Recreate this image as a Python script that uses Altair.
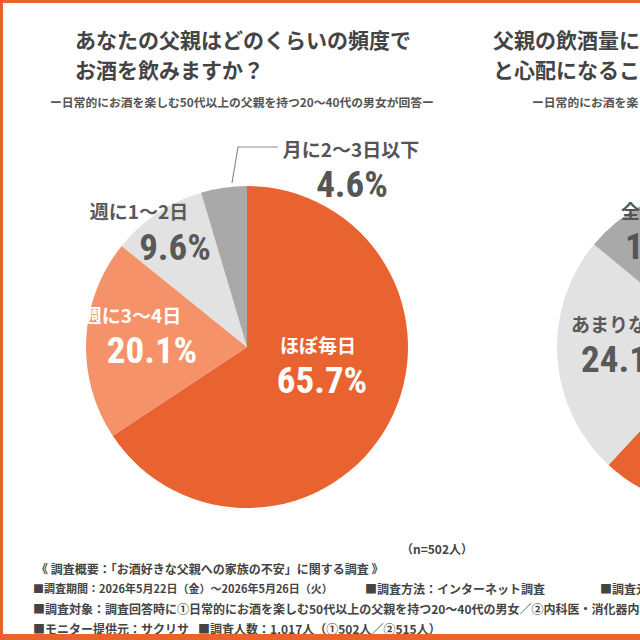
import altair as alt
import pandas as pd

# ------------------------------------------------------------------ data
pie1_categories = ["ほぼ毎日", "週に3〜4日", "週に1〜2日", "月に2〜3日以下"]
pie1_values = [65.7, 20.1, 9.6, 4.6]

pie2_categories = ["ある", "あまりない", "全くない"]
pie2_values = [61.9, 24.1, 14.0]

title1_lines = ["あなたの父親はどのくらいの頻度で", "お酒を飲みますか？"]
title2_lines = ["父親の飲酒量について「多すぎる」", "と心配になることはありますか？"]
subtitle_text = "ー日常的にお酒を楽しむ50代以上の父親を持つ20〜40代の男女が回答ー"
sample_note = "（n=502人）"
footer_heading = "《 調査概要：「お酒好きな父親への家族の不安」に関する調査 》"
footer_row1 = ["■調査期間：2026年5月22日（金）〜2026年5月26日（火）",
               "■調査方法：インターネット調査", "■調査元：サクリサ"]
footer_row2 = ["■調査対象：調査回答時に①日常的にお酒を楽しむ50代以上の父親を持つ20〜40代の男女／②内科医・消化器内科医"]
footer_row3 = ["■モニター提供元：サクリサ", "■調査人数：1,017人（①502人／②515人）"]

# ------------------------------------------------------------------ styles / layout
W, H = 640, 640
ORANGE = "#E8632F"
SALMON = "#F5926A"
LGRAY = "#E2E2E2"
GRAY = "#A9A9A9"
JP = "Noto Sans CJK JP"
NUM = "Roboto Condensed, Roboto, sans-serif"

pie1_colors = [ORANGE, SALMON, LGRAY, GRAY]
pie2_colors = [ORANGE, LGRAY, GRAY]
pie1_text_colors = ["white", "white", "#595959", "#555555"]
pie2_text_colors = ["white", "#595959", "#555555"]

PIE1 = dict(cx=247, cy=347, r=161)
PIE2 = dict(cx=718, cy=347, r=161)

# label offsets relative to pie centre: (label x, label y, pct x, pct baseline y)
pie1_label_pos = {
    "ほぼ毎日": (71, 0, 75, 46),
    "週に3〜4日": (-115, -30, -95, 16),
    "週に1〜2日": (-108, -134, -72, -87),
    "月に2〜3日以下": (104, -196, 105, -150),
}
pie2_label_pos = {
    "あまりない": (-147, -21, -137, 25),
    "全くない": (-97, -134, -93, -88),
}
leader_pts = [(-15, -164), (-9, -200), (31, -200)]


def pie_frame(cats, vals, cols):
    return pd.DataFrame({"cat": cats, "value": vals, "col": cols,
                         "idx": list(range(len(cats)))})


def arc_layer(df, pie):
    return alt.Chart(df).mark_arc(radius=pie["r"]).encode(
        theta=alt.Theta("value:Q", stack=True),
        color=alt.Color("col:N", scale=None, legend=None),
        order=alt.Order("idx:Q", sort="ascending"),
        x=alt.value(pie["cx"]),
        y=alt.value(pie["cy"]),
    )


def label_frame(cats, vals, tcols, pie, pos):
    rows = []
    for c, v, tc in zip(cats, vals, tcols):
        if c not in pos:
            continue
        lx, ly, px, py = pos[c]
        rows.append({"cat": c, "pct": f"{v:.1f}%", "tc": tc,
                     "lx": pie["cx"] + lx, "ly": pie["cy"] + ly,
                     "px": pie["cx"] + px, "py": pie["cy"] + py})
    return pd.DataFrame(rows)


def text_layers(df, align):
    lab = alt.Chart(df).mark_text(font=JP, fontSize=19, fontWeight="bold",
                                  align=align, baseline="middle").encode(
        x=alt.X("lx:Q", scale=None, axis=None),
        y=alt.Y("ly:Q", scale=None, axis=None),
        text="cat:N",
        color=alt.Color("tc:N", scale=None, legend=None),
    )
    pct = alt.Chart(df).mark_text(font=NUM, fontSize=37, fontWeight="bold",
                                  align=align, baseline="alphabetic").encode(
        x=alt.X("px:Q", scale=None, axis=None),
        y=alt.Y("py:Q", scale=None, axis=None),
        text="pct:N",
        color=alt.Color("tc:N", scale=None, legend=None),
    )
    return [lab, pct]


def free_text(rows, size, weight, color, align="left", font=JP):
    df = pd.DataFrame(rows, columns=["t", "x", "y"])
    return alt.Chart(df).mark_text(font=font, fontSize=size, fontWeight=weight,
                                   color=color, align=align,
                                   baseline="middle").encode(
        x=alt.X("x:Q", scale=None, axis=None),
        y=alt.Y("y:Q", scale=None, axis=None),
        text="t:N",
    )


d1 = pie_frame(pie1_categories, pie1_values, pie1_colors)
d2 = pie_frame(pie2_categories, pie2_values, pie2_colors)
l1 = label_frame(pie1_categories, pie1_values, pie1_text_colors, PIE1, pie1_label_pos)
l2 = label_frame(pie2_categories, pie2_values, pie2_text_colors, PIE2, pie2_label_pos)

leader = alt.Chart(pd.DataFrame({
    "x": [PIE1["cx"] + p[0] for p in leader_pts],
    "y": [PIE1["cy"] + p[1] for p in leader_pts],
    "o": list(range(len(leader_pts)))})).mark_line(
        color="#8C8C8C", strokeWidth=1.2).encode(
    x=alt.X("x:Q", scale=None, axis=None),
    y=alt.Y("y:Q", scale=None, axis=None),
    order="o:Q",
)

titles = free_text([(title1_lines[0], 75, 42), (title1_lines[1], 75, 72),
                    (title2_lines[0], 493, 42), (title2_lines[1], 493, 72)],
                   21, "bold", "#444444")
subs = free_text([(subtitle_text, 50, 103), (subtitle_text, 532, 103)],
                 11.8, "bold", "#555555")
note = free_text([(sample_note, 437, 550)], 12, "bold", "#444444", align="center")
footer_dates = free_text([(footer_row1[0], 33, 590)], 11, "bold", "#444444")
footer = free_text([(footer_heading, 36, 570),
                    (footer_row1[1], 365, 590), (footer_row1[2], 600, 590),
                    (footer_row2[0], 33, 610),
                    (footer_row3[0], 33, 630), (footer_row3[1], 198, 630)],
                   12, "bold", "#444444")

border_top = alt.Chart().mark_rule(color=ORANGE, strokeWidth=3).encode(
    x=alt.value(0), x2=alt.value(W), y=alt.value(1.5))
border_left = alt.Chart().mark_rule(color=ORANGE, strokeWidth=3).encode(
    x=alt.value(1.5), y=alt.value(0), y2=alt.value(H))
border_bottom = alt.Chart().mark_rule(color=ORANGE, strokeWidth=6).encode(
    x=alt.value(0), x2=alt.value(W), y=alt.value(637))

chart = alt.layer(
    arc_layer(d1, PIE1), arc_layer(d2, PIE2), leader,
    *text_layers(l1, "center"), *text_layers(l2, "left"),
    titles, subs, note, footer_dates, footer,
    border_top, border_left, border_bottom,
).properties(
    width=W, height=H, autosize="none", padding=0, background="white"
).configure_view(stroke=None)

chart.save("out.html", embed_options={"renderer": "svg", "actions": False})
